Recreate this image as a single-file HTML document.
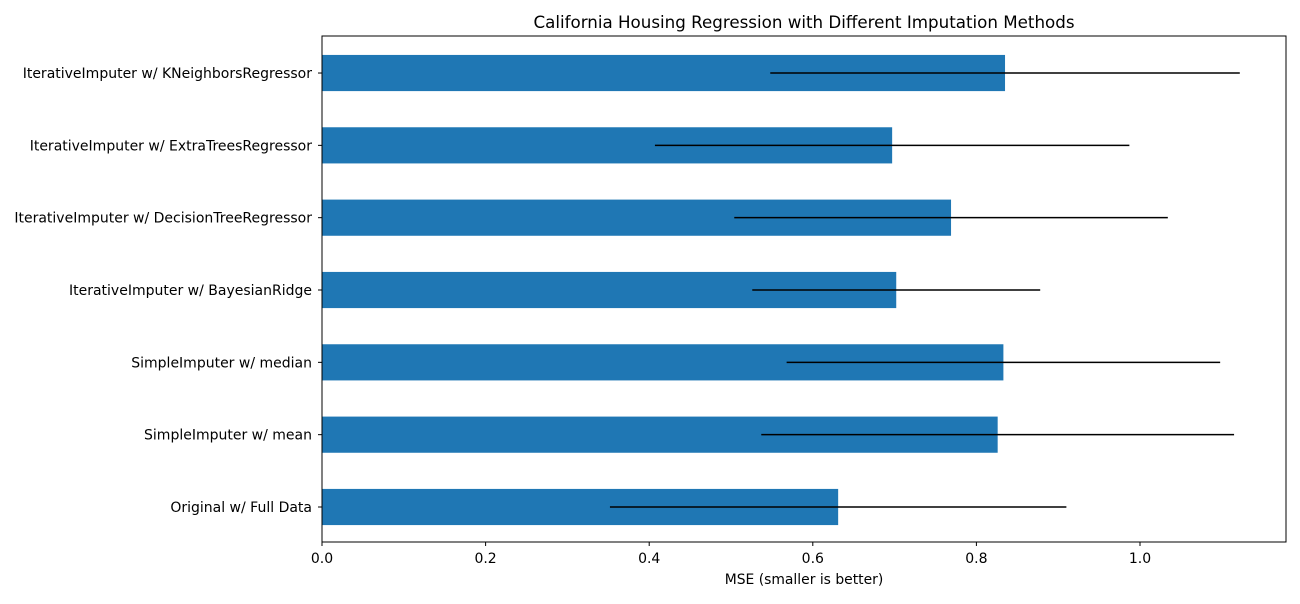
<!DOCTYPE html>
<html><head><meta charset="utf-8"><style>
body{margin:0;background:#fff;font-family:"DejaVu Sans",sans-serif}
</style></head><body>
<svg id="chart" width="1300" height="600" xmlns="http://www.w3.org/2000/svg" font-family="DejaVu Sans, sans-serif">
<text x="804" y="28" font-size="16.7" text-anchor="middle">California Housing Regression with Different Imputation Methods</text>
<text x="804" y="584" font-size="13.9" text-anchor="middle">MSE (smaller is better)</text>
<g id="bars"></g><g id="errs"></g><g id="axes"></g>
</svg>
<script>
const categories=["Original w/ Full Data","SimpleImputer w/ mean","SimpleImputer w/ median","IterativeImputer w/ BayesianRidge","IterativeImputer w/ DecisionTreeRegressor","IterativeImputer w/ ExtraTreesRegressor","IterativeImputer w/ KNeighborsRegressor"];
const values=[0.631,0.826,0.833,0.702,0.769,0.697,0.835];
const errors=[0.279,0.289,0.265,0.176,0.265,0.290,0.287];
const xTicks=[0,0.2,0.4,0.6,0.8,1.0];
const xTickLabels=["0.0","0.2","0.4","0.6","0.8","1.0"];
const L=322,R=1286,T=36,B=542;
const x=v=>L+v*818;
const step=72.33;
const y=i=>507-i*step;
const NS="http://www.w3.org/2000/svg";
function mk(tag,attrs,parent){const e=document.createElementNS(NS,tag);for(const k in attrs)e.setAttribute(k,attrs[k]);document.getElementById(parent).appendChild(e);return e;}
categories.forEach((c,i)=>{
  const r=mk('rect',{x:x(0),y:y(i)-step*0.25,width:x(values[i])-x(0),height:step*0.5,fill:'#1f77b4'},'bars');
  
  
  const l=mk('line',{x1:x(values[i]-errors[i]),x2:x(values[i]+errors[i]),y1:y(i),y2:y(i),stroke:'#000','stroke-width':1.5},'errs');
  
  
  const tk=mk('line',{x1:L-4,x2:L,y1:y(i),y2:y(i),stroke:'#000'},'axes');
  
  
  const t=mk('text',{x:L-10,y:y(i)+5,'font-size':14,'text-anchor':'end'},'axes');
  t.textContent=c;
  
  
});
xTicks.forEach((v,i)=>{
  const tk=mk('line',{x1:x(v),x2:x(v),y1:B,y2:B+4,stroke:'#000'},'axes');
  
  
  const t=mk('text',{x:x(v),y:B+21,'font-size':14,'text-anchor':'middle'},'axes');
  t.textContent=xTickLabels[i];
  
  
});
const fr=mk('rect',{x:L,y:T,width:R-L,height:B-T,fill:'none',stroke:'#000','stroke-width':1},'axes');


</script>
</body></html>
